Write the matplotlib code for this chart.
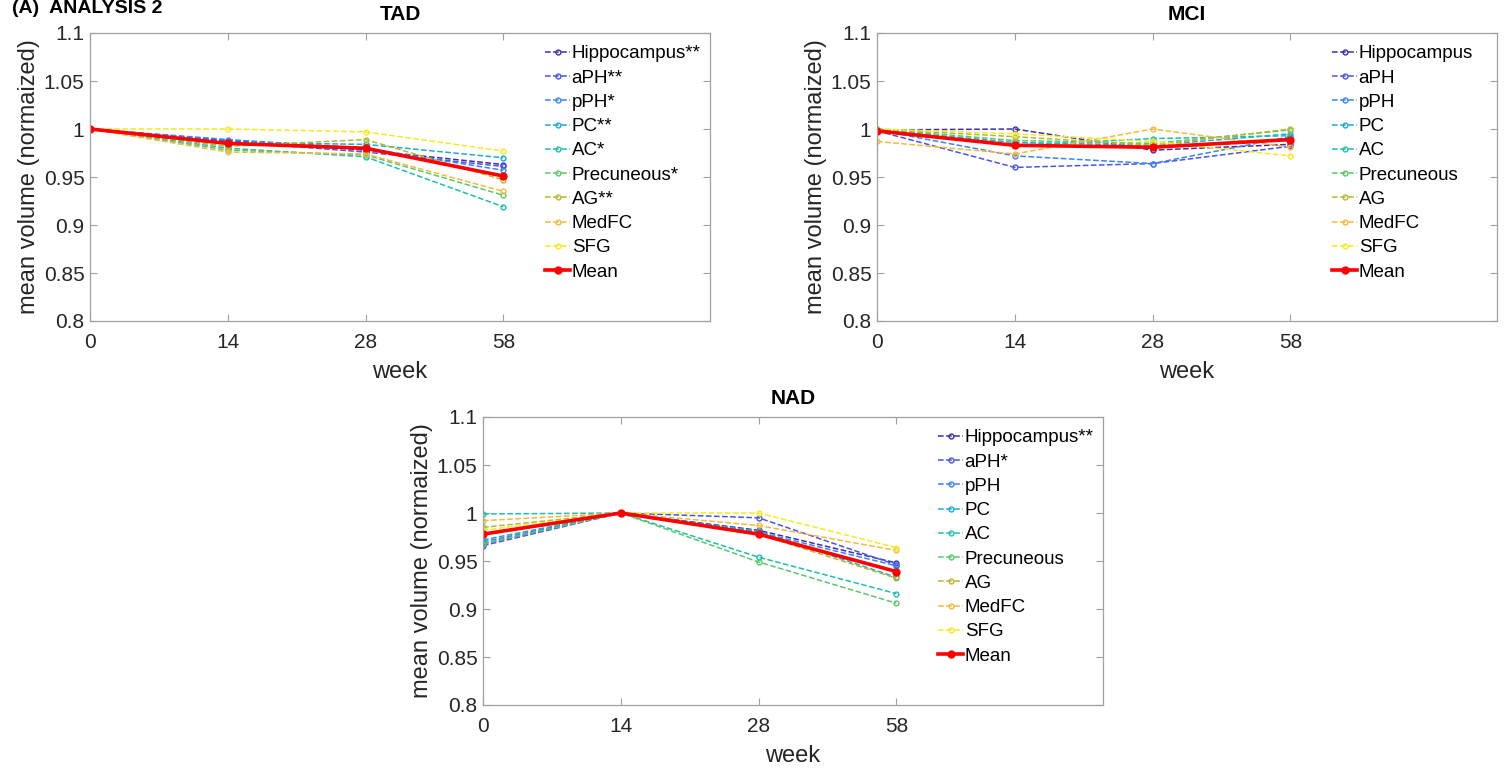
import matplotlib.pyplot as plt

plt.rcParams['font.family'] = ['Liberation Sans', 'DejaVu Sans']

weeks = ['0', '14', '28', '58']
regions = ['Hippocampus', 'aPH', 'pPH', 'PC', 'AC', 'Precuneous', 'AG', 'MedFC', 'SFG']
colors = ['#3e2ea8', '#4a55e6', '#3a85f0', '#1eaad6', '#1fbfae', '#5cc76a', '#b5b932', '#f6b93c', '#f5ea22']

# significance marks per group
tad_marks = ['**', '**', '*', '**', '*', '*', '**', '', '']
mci_marks = ['', '', '', '', '', '', '', '', '']
nad_marks = ['**', '*', '', '', '', '', '', '', '']

# values per region: weeks 0, 14, 28, 58
tad_vals = [
    [1.0, 0.988, 0.978, 0.963],
    [1.0, 0.987, 0.976, 0.961],
    [1.0, 0.989, 0.980, 0.957],
    [1.0, 0.986, 0.984, 0.970],
    [1.0, 0.980, 0.971, 0.919],
    [1.0, 0.978, 0.973, 0.931],
    [1.0, 0.982, 0.989, 0.947],
    [1.0, 0.976, 0.974, 0.935],
    [1.0, 1.000, 0.997, 0.977],
]
tad_mean = [1.0, 0.985, 0.980, 0.951]

mci_vals = [
    [0.999, 1.000, 0.978, 0.984],
    [0.998, 0.960, 0.964, 0.982],
    [0.999, 0.972, 0.964, 0.992],
    [0.999, 0.986, 0.983, 0.995],
    [1.000, 0.983, 0.990, 0.993],
    [1.000, 0.988, 0.985, 0.999],
    [1.000, 0.992, 0.983, 1.000],
    [0.987, 0.974, 1.000, 0.981],
    [1.000, 0.995, 0.987, 0.972],
]
mci_mean = [0.998, 0.983, 0.981, 0.989]

nad_vals = [
    [0.968, 1.0, 0.982, 0.948],
    [0.966, 1.0, 0.995, 0.946],
    [0.970, 1.0, 0.980, 0.945],
    [0.972, 1.0, 0.981, 0.933],
    [0.999, 1.0, 0.954, 0.916],
    [0.968, 1.0, 0.949, 0.906],
    [0.985, 1.0, 0.978, 0.932],
    [0.992, 1.0, 0.987, 0.961],
    [0.982, 1.0, 1.000, 0.964],
]
nad_mean = [0.978, 1.0, 0.978, 0.939]

W = 1511
H = 769
fig = plt.figure(figsize=(W / 100, H / 100), dpi=100)

fig.text(12 / W, 1.0, '(A)  ANALYSIS 2', fontsize=14, fontweight='bold', va='top')


def draw_panel(rect, title, vals, mean, marks):
    ax = fig.add_axes(rect)
    xs = [1, 2, 3, 4]
    for i in range(len(regions)):
        ax.plot(xs, vals[i], '--o', color=colors[i], lw=1.1, ms=3.5, mfc='none', mew=1.0,
                label=regions[i] + marks[i])
    ax.plot(xs, mean, '-o', color='#ff0000', lw=2.6, ms=5, label='Mean')
    ax.set_xlim(1, 5.5)
    ax.set_ylim(0.8, 1.1)
    ax.set_xticks(xs)
    ax.set_xticklabels(weeks)
    ax.set_yticks([0.8, 0.85, 0.9, 0.95, 1.0, 1.05, 1.1])
    ax.set_yticklabels(['0.8', '0.85', '0.9', '0.95', '1', '1.05', '1.1'])
    ax.tick_params(direction='in', top=True, right=True, labelsize=15, colors='#a0a0a0',
                   labelcolor='#262626', length=5)
    ax.tick_params(axis='x', pad=9)
    ax.tick_params(axis='y', pad=4)
    for s in ax.spines.values():
        s.set_color('#a0a0a0')
        s.set_linewidth(0.9)
    ax.set_title(title, fontsize=15, fontweight='bold', pad=9)
    ax.set_xlabel('week', fontsize=17, color='#262626', labelpad=6)
    ax.set_ylabel('mean volume (normaized)', fontsize=17, color='#262626', labelpad=3)
    ax.legend(loc='upper left', bbox_to_anchor=(0.715, 1.0), frameon=False, fontsize=13.5,
              handlelength=1.3, handletextpad=0.1, labelspacing=0.38, borderaxespad=0.25)
    return ax


aw = 620 / W
ah = 288 / H
draw_panel([90 / W, 1 - 321 / H, aw, ah], 'TAD', tad_vals, tad_mean, tad_marks)
draw_panel([877 / W, 1 - 321 / H, aw, ah], 'MCI', mci_vals, mci_mean, mci_marks)
draw_panel([483 / W, 1 - 705 / H, aw, ah], 'NAD', nad_vals, nad_mean, nad_marks)

fig.savefig('out.png', dpi=100)
